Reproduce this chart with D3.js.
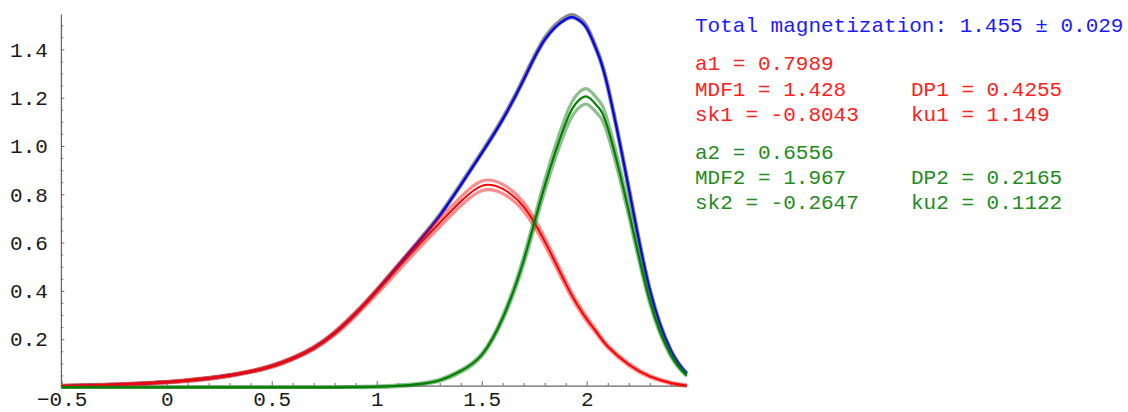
<!DOCTYPE html>
<html><head><meta charset="utf-8">
<script src="https://cdn.jsdelivr.net/npm/d3@7"></script>
<style>
html,body{margin:0;padding:0;background:#fff;}
svg{display:block;}
text{font-family:"Liberation Mono","DejaVu Sans Mono",monospace;}
</style>
</head><body>
<svg id="chart" width="1128" height="412"></svg>
<script>
// ---------- data ----------
const xs = [-0.5,-0.4,-0.3,-0.2,-0.1,0,0.1,0.2,0.3,0.4,0.5,0.6,0.7,0.8,0.9,1.0,1.1,1.2,1.3,1.4,1.5,1.6,1.7,1.8,1.9,1.95,2.0,2.05,2.1,2.2,2.3,2.4,2.476];

const red    = [0.006,0.008,0.010,0.013,0.017,0.022,0.029,0.038,0.050,0.066,0.088,0.120,0.163,0.225,0.305,0.397,0.494,0.590,0.682,0.770,0.835,0.822,0.748,0.605,0.430,0.350,0.283,0.225,0.170,0.095,0.046,0.019,0.008];
const redHi  = [0.009,0.011,0.013,0.016,0.020,0.025,0.033,0.042,0.054,0.070,0.093,0.125,0.169,0.233,0.314,0.408,0.507,0.605,0.699,0.788,0.855,0.841,0.766,0.620,0.442,0.360,0.292,0.232,0.176,0.100,0.050,0.022,0.011];
const redLo  = [0.003,0.005,0.007,0.010,0.014,0.019,0.025,0.034,0.046,0.062,0.083,0.115,0.157,0.217,0.296,0.386,0.481,0.575,0.665,0.752,0.815,0.803,0.730,0.590,0.418,0.340,0.274,0.218,0.164,0.090,0.042,0.016,0.005];

const green   = [0,0,0,0,0,0,0,0,0,0,0,0,0,0,0.001,0.003,0.007,0.014,0.030,0.068,0.135,0.288,0.527,0.835,1.095,1.178,1.205,1.165,1.075,0.730,0.360,0.135,0.050];
const greenHi = [0.002,0.002,0.002,0.002,0.002,0.002,0.002,0.002,0.002,0.002,0.002,0.002,0.002,0.002,0.004,0.006,0.010,0.017,0.034,0.073,0.141,0.298,0.543,0.858,1.124,1.209,1.237,1.196,1.104,0.751,0.372,0.141,0.054];
const greenLo = [0,0,0,0,0,0,0,0,0,0,0,0,0,0,0,0,0.004,0.011,0.026,0.063,0.129,0.278,0.511,0.812,1.066,1.147,1.173,1.134,1.046,0.709,0.348,0.129,0.046];

const total   = [0.006,0.008,0.010,0.013,0.017,0.022,0.029,0.038,0.050,0.066,0.088,0.120,0.163,0.225,0.306,0.400,0.501,0.604,0.712,0.838,0.970,1.110,1.275,1.440,1.525,1.528,1.488,1.390,1.245,0.825,0.406,0.154,0.058];
const totalHi = [0.008,0.010,0.012,0.015,0.019,0.024,0.031,0.040,0.052,0.068,0.091,0.123,0.166,0.228,0.310,0.404,0.506,0.610,0.718,0.845,0.978,1.119,1.285,1.451,1.536,1.539,1.499,1.400,1.254,0.832,0.410,0.157,0.060];

const xTickValues = [-0.5,0,0.5,1,1.5,2];
const xTickLabels = ["\u22120.5","0","0.5","1","1.5","2"];
const xMinorTicks = [-0.4,-0.3,-0.2,-0.1,0.1,0.2,0.3,0.4,0.6,0.7,0.8,0.9,1.1,1.2,1.3,1.4,1.6,1.7,1.8,1.9,2.1,2.2,2.3,2.4];
const yTickValues = [0.2,0.4,0.6,0.8,1.0,1.2,1.4];
const yTickLabels = ["0.2","0.4","0.6","0.8","1.0","1.2","1.4"];
const yMinorTicks = [0.05,0.1,0.15,0.25,0.3,0.35,0.45,0.5,0.55,0.65,0.7,0.75,0.85,0.9,0.95,1.05,1.1,1.15,1.25,1.3,1.35,1.45,1.5];

const titleLine = "Total magnetization: 1.455 \u00b1 0.029";
const comp1Left  = ["a1 = 0.7989","MDF1 = 1.428","sk1 = -0.8043"];
const comp1Right = ["","DP1 = 0.4255","ku1 = 1.149"];
const comp2Left  = ["a2 = 0.6556","MDF2 = 1.967","sk2 = -0.2647"];
const comp2Right = ["","DP2 = 0.2165","ku2 = 0.1122"];

// ---------- layout ----------
const svg = d3.select("#chart");
const x = d3.scaleLinear().domain([-0.5, 2.476]).range([61.7, 686.7]);
const y = d3.scaleLinear().domain([0, 1.546]).range([387.5, 14.1]);
const xAxisAt = 0.008;
const axisColor = "#666";
const fontSize = 21;

// axes
const gx = svg.append("g").attr("transform", `translate(0,${y(xAxisAt)})`);
gx.call(d3.axisBottom(x).tickValues(xTickValues).tickSizeInner(-4.5).tickSizeOuter(0).tickPadding(5.5)
  .tickFormat((d,i)=>xTickLabels[i]));
const gxm = svg.append("g").attr("transform", `translate(0,${y(xAxisAt)})`);
gxm.call(d3.axisBottom(x).tickValues(xMinorTicks).tickSizeInner(-2.5).tickSizeOuter(0).tickFormat(""));
gxm.select(".domain").remove();

const gy = svg.append("g").attr("transform", `translate(${x(-0.5)-0.8},0)`);
gy.call(d3.axisLeft(y).tickValues(yTickValues).tickSizeInner(-3.5).tickSizeOuter(0).tickPadding(13)
  .tickFormat((d,i)=>yTickLabels[i]));
const gym = svg.append("g").attr("transform", `translate(${x(-0.5)-0.8},0)`);
gym.call(d3.axisLeft(y).tickValues(yMinorTicks).tickSizeInner(-2.3).tickSizeOuter(0).tickFormat(""));
gym.select(".domain").remove();

svg.selectAll(".domain").attr("stroke", axisColor).attr("stroke-width", 1.2);
svg.selectAll(".tick line").attr("stroke", axisColor).attr("stroke-width", 1);
svg.selectAll(".tick text").attr("font-family", "Liberation Mono, monospace")
  .attr("font-size", fontSize).attr("fill", "#1a1a1a");

// curves
const line = arr => d3.line().x((d,i)=>x(xs[i])).y(d=>y(d)).curve(d3.curveNatural)(arr);
function drawCurve(arr, color, width, opacity) {
  svg.append("path").attr("d", line(arr)).attr("fill", "none")
    .attr("stroke", color).attr("stroke-width", width)
    .attr("stroke-opacity", opacity == null ? 1 : opacity)
    .attr("stroke-linejoin", "round").attr("stroke-linecap", "butt");
}
// total (blue) with grey uncertainty
drawCurve(total, "#8a8a8a", 4.2);
drawCurve(totalHi, "#8a8a8a", 3);
drawCurve(total, "#0000ff", 2.2);
// component 1 (red)
drawCurve(redHi, "#ff0000", 3.2, 0.45);
drawCurve(redLo, "#ff0000", 3.2, 0.45);
drawCurve(red, "#ff0000", 2);
// component 2 (green)
drawCurve(greenHi, "#1a801a", 3.2, 0.5);
drawCurve(greenLo, "#1a801a", 3.2, 0.5);
drawCurve(green, "#008000", 2.2);

// annotation text
const tx = 695, tx2 = 911;
function txt(s, xx, yy, color) {
  svg.append("text").attr("x", xx).attr("y", yy).attr("font-size", fontSize)
    .attr("fill", color).attr("xml:space", "preserve").text(s);
}
txt(titleLine, tx, 32, "#1a1aff");
const red1Y = [70, 96, 121];
const grn2Y = [159, 184, 209];
comp1Left.forEach((s,i)=>txt(s, tx, red1Y[i], "#ff2020"));
comp1Right.forEach((s,i)=>{ if (s) txt(s, tx2, red1Y[i], "#ff2020"); });
comp2Left.forEach((s,i)=>txt(s, tx, grn2Y[i], "#228b22"));
comp2Right.forEach((s,i)=>{ if (s) txt(s, tx2, grn2Y[i], "#228b22"); });
</script>
</body></html>
